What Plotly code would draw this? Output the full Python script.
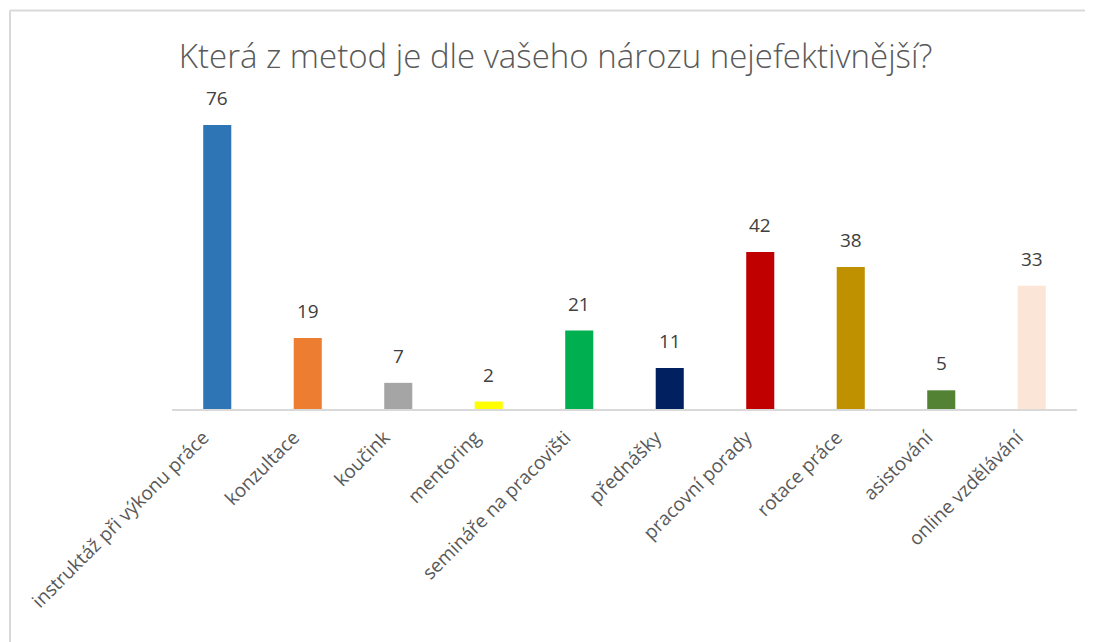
import plotly.graph_objects as go

categories = ["instruktáž při výkonu práce", "konzultace", "koučink", "mentoring",
              "semináře na pracovišti", "přednášky", "pracovní porady", "rotace práce",
              "asistování", "online vzdělávání"]
values = [76, 19, 7, 2, 21, 11, 42, 38, 5, 33]
colors = ["#2E75B6", "#ED7D31", "#A5A5A5", "#FFFF00", "#00B050", "#002060",
          "#C00000", "#BF9000", "#548235", "#FBE5D6"]
title = "Která z metod je dle vašeho nározu nejefektivnější?"

fig = go.Figure(go.Bar(
    x=categories, y=values,
    marker=dict(color=colors, line=dict(width=0)),
    cliponaxis=False,
))

for c, v in zip(categories, values):
    fig.add_annotation(x=c, y=v, text=str(v), showarrow=False, yanchor="bottom",
                       yshift=12, font=dict(family="Open Sans", size=19, color="#404040"))

fig.update_layout(
    width=1093, height=642,
    margin=dict(l=164, r=24, t=102, b=241),
    paper_bgcolor="white", plot_bgcolor="white",
    bargap=0.69,
    showlegend=False,
    title=dict(text=title, x=0.501, xanchor="center", y=0.924, yanchor="middle",
               font=dict(family="Open Sans", size=33, color="#595959", weight=300)),
    xaxis=dict(showline=True, linecolor="#D9D9D9", linewidth=2, ticks="",
               tickangle=-45, tickfont=dict(family="Open Sans", size=19, color="#595959"),
               ticklabelstandoff=8, ticklabelshift=-14,
               showgrid=False),
    yaxis=dict(range=[0, 80], visible=False, showgrid=False, zeroline=False),
    shapes=[
        dict(type="line", xref="paper", yref="paper", x0=-0.179, x1=1.05, y0=1.333, y1=1.333,
             line=dict(color="#D9D9D9", width=2)),
        dict(type="line", xref="paper", yref="paper", x0=-0.179, x1=-0.179, y0=1.333, y1=-0.9,
             line=dict(color="#D9D9D9", width=2)),
    ],
)

fig.write_html("out.html")
